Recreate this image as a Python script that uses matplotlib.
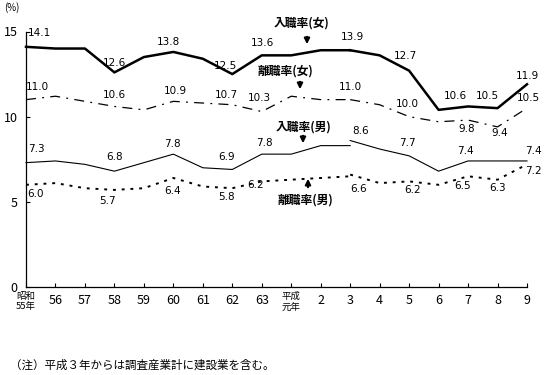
import matplotlib
matplotlib.use("Agg")
import matplotlib.pyplot as plt

plt.rcParams['font.family'] = ['Noto Sans CJK JP', 'DejaVu Sans']

# === データ (昭和55年〜平成9年) ===
years = ['昭和\n55年', '56', '57', '58', '59', '60', '61', '62', '63',
         '平成\n元年', '2', '3', '4', '5', '6', '7', '8', '9']

# 旧基準: 昭和55年〜平成3年, 新基準 (建設業を含む): 平成3年〜9年
f_hire_old = [14.1, 14.0, 14.0, 12.6, 13.5, 13.8, 13.4, 12.5, 13.6, 13.6, 13.9, 13.9]
f_hire_new = [13.9, 13.6, 12.7, 10.4, 10.6, 10.5, 11.9]
f_sep_old = [11.0, 11.2, 10.9, 10.6, 10.4, 10.9, 10.8, 10.7, 10.3, 11.2, 11.0, 11.0]
f_sep_new = [11.0, 10.7, 10.0, 9.7, 9.8, 9.4, 10.5]
m_hire_old = [7.3, 7.4, 7.2, 6.8, 7.3, 7.8, 7.0, 6.9, 7.8, 7.8, 8.3, 8.3]
m_hire_new = [8.6, 8.1, 7.7, 6.8, 7.4, 7.4, 7.4]
m_sep_old = [6.0, 6.1, 5.8, 5.7, 5.8, 6.4, 5.9, 5.8, 6.2, 6.3, 6.4, 6.5]
m_sep_new = [6.6, 6.1, 6.2, 6.0, 6.5, 6.3, 7.2]

note = "（注）平成３年からは調査産業計に建設業を含む。"

# ラベル位置 (点からのずれ, 画像ピクセル: 右+, 下+)
f_hire_lab = {0: (13, -14), 3: (0, -9), 5: (-5, -10), 7: (-7, -8), 8: (1, -12),
              11: (2, -13), 13: (-4, -15), 15: (-13, -10), 16: (-10, -12), 17: (0, -8)}
f_sep_lab = {0: (11, -13), 3: (0, -11), 5: (2, -10), 7: (-6, -10), 8: (-2, -14),
             11: (0, -13), 13: (-2, -13), 15: (-1, 9), 16: (2, 6), 17: (1, -10)}
m_hire_lab = {0: (10, -14), 3: (0, -14), 5: (-1, -10), 7: (-6, -12), 8: (3, -11),
              11: (10, -10), 13: (-2, -13), 15: (-3, -10), 17: (6, -10)}
m_sep_lab = {0: (9, 9), 3: (-7, 11), 5: (-1, 13), 7: (-6, 9), 8: (-6, 4),
             11: (8, 14), 13: (3, 9), 15: (-5, 10), 16: (0, 8), 17: (6, 7)}

W, H = 550, 375


def fp(x, y):
    return x / W, 1 - y / H


fig = plt.figure(figsize=(5.5, 3.75), dpi=100)
x0, y0 = fp(26, 287)
x1, y1 = fp(527, 31.5)
ax = fig.add_axes([x0, y0, x1 - x0, y1 - y0])

xo = list(range(12))
xn = list(range(11, 18))
styles = [
    (f_hire_old, f_hire_new, dict(color='k', lw=1.8, ls='-'), f_hire_lab),
    (f_sep_old, f_sep_new, dict(color='k', lw=0.9, ls=(0, (8, 5, 1.5, 5))), f_sep_lab),
    (m_hire_old, m_hire_new, dict(color='k', lw=0.8, ls='-'), m_hire_lab),
    (m_sep_old, m_sep_new, dict(color='k', lw=1.4, ls=(0, (1.5, 3))), m_sep_lab),
]
for old, new, st, labs in styles:
    ax.plot(xo, old, clip_on=False, **st)
    ax.plot(xn, new, clip_on=False, **st)
    vals = old[:11] + new
    for i, (dx, dy) in labs.items():
        ax.annotate(f"{vals[i]:.1f}", (i, vals[i]), xytext=(dx, -dy),
                    textcoords='offset pixels', ha='center', va='center',
                    fontsize=7.5, family='DejaVu Sans')

ax.set_xlim(0, 17)
ax.set_ylim(0, 15)
ax.set_yticks([0, 5, 10, 15])
ax.set_xticks(range(18))
ax.set_xticklabels(['' if '\n' in y else y for y in years])
ax.tick_params(direction='in', length=3, width=0.8, labelsize=9, color='k')
ax.tick_params(axis='y', pad=6)
ax.tick_params(axis='x', pad=5)
for s in ['top', 'right']:
    ax.spines[s].set_visible(False)
for s in ['left', 'bottom']:
    ax.spines[s].set_linewidth(0.9)

# 二段の年ラベル
for i, y in enumerate(years):
    if '\n' in y:
        ax.annotate(y, (i, 0), xytext=(0, -5), textcoords='offset pixels',
                    xycoords=ax.get_xaxis_transform(), ha='center', va='top',
                    fontsize=6.8, linespacing=1.15)

fig.text(*fp(4, 8), "(%)", fontsize=7, ha='left', va='center')

# 系列名と矢印
names = [("入職率(女)", 302, 23, 307, 34, 47),
         ("離職率(女)", 286, 71, 300, 79, 92),
         ("入職率(男)", 304, 127, 303, 133, 146),
         ("離職率(男)", 306, 200, 308, 190, 176)]
for name, tx, ty, ax_x, ay0, ay1 in names:
    fig.text(*fp(tx, ty), name, fontsize=8.5, fontweight='bold', ha='center', va='center')
    fig.add_artist(matplotlib.patches.FancyArrowPatch(
        fp(ax_x, ay0), fp(ax_x, ay1), transform=fig.transFigure,
        arrowstyle='-|>', mutation_scale=8, lw=1.5, color='k'))

fig.text(*fp(10, 365), note, fontsize=8.3, ha='left', va='center')

fig.savefig("out.png", dpi=100)
